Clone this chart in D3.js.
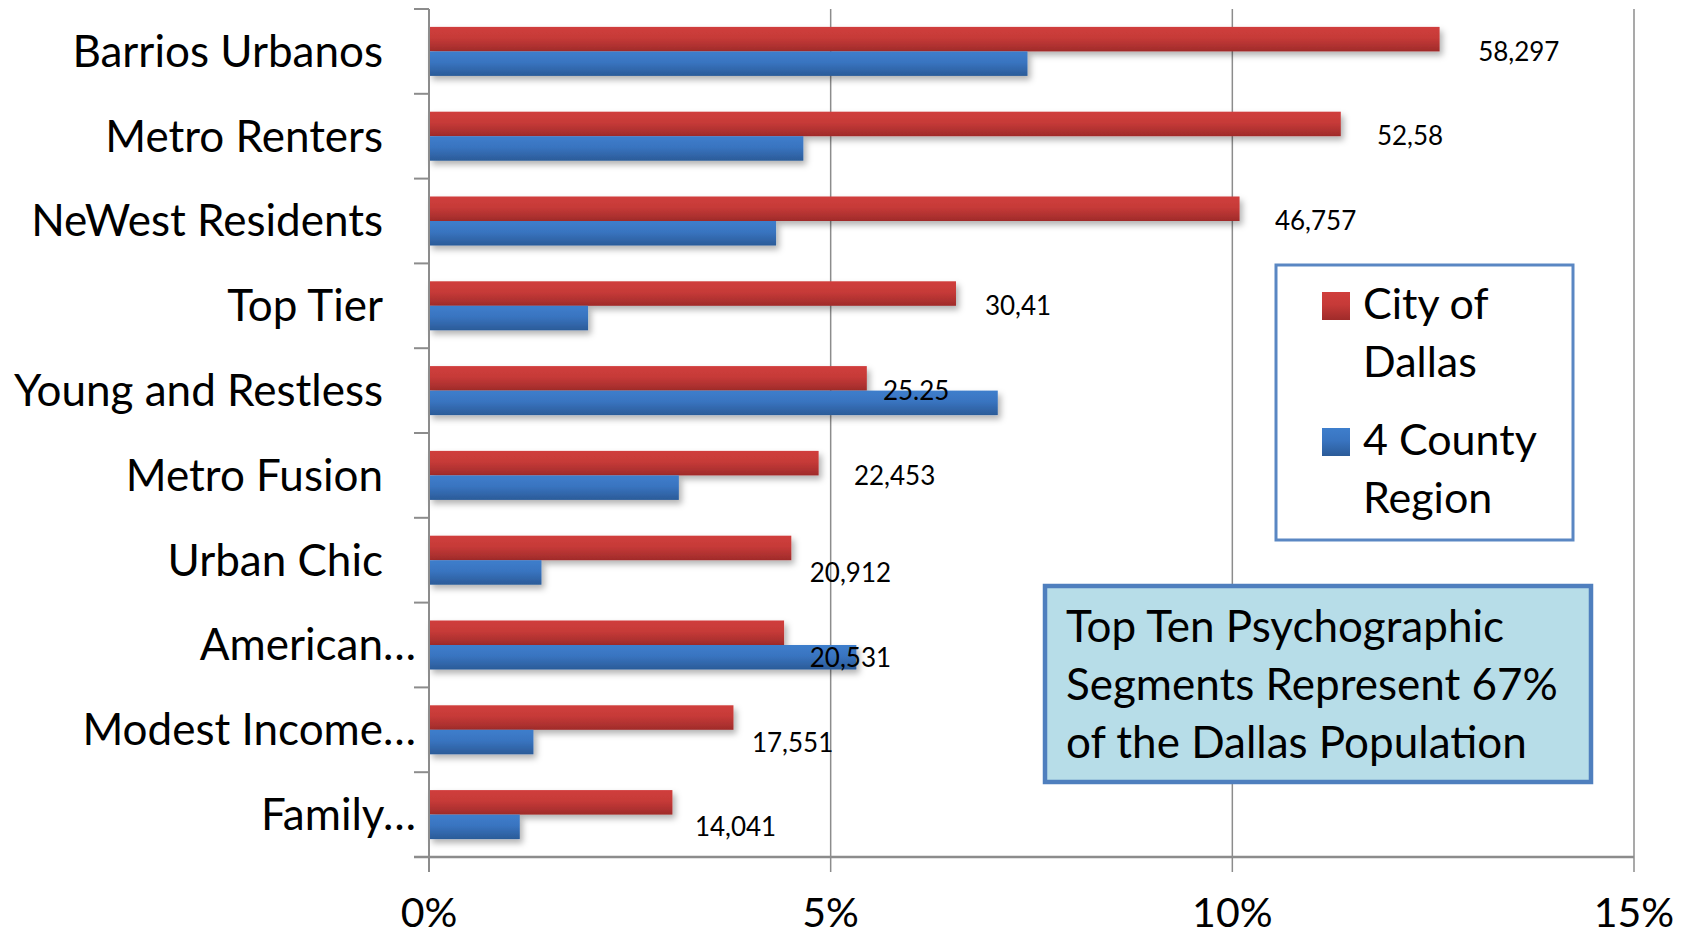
<!DOCTYPE html>
<html>
<head>
<meta charset="utf-8">
<script src="https://cdn.jsdelivr.net/npm/d3@7"></script>
<style>
  body { margin: 0; background: #fff; }
  text { font-family: Lato, "Open Sans", sans-serif; fill: #000; }
</style>
</head>
<body>
<div id="chart"></div>
<script>
var segments = ["Barrios Urbanos", "Metro Renters", "NeWest Residents", "Top Tier",
  "Young and Restless", "Metro Fusion", "Urban Chic", "American\u2026",
  "Modest Income\u2026", "Family\u2026"]
var seriesNames = ["City of Dallas", "4 County Region"]
var cityPct = [12.58, 11.35, 10.09, 6.56, 5.45, 4.85, 4.51, 4.42, 3.79, 3.03]
var countyPct = [7.45, 4.66, 4.32, 1.98, 7.08, 3.11, 1.40, 5.32, 1.30, 1.13]
var cityCounts = ["58,297", "52,58", "46,757", "30,41", "25.25", "22,453", "20,912", "20,531", "17,551", "14,041"]
// where each count label sits, in % along x
var countAt = [13.06, 11.80, 10.53, 6.92, 5.65, 5.29, 4.74, 4.74, 4.02, 3.31]
var countDrop = [0, 0, 0, 0, 0, 0, 0.15, 0.15, 0.15, 0.15]
var xTicks = [0, 5, 10, 15]
var noteLines = ["Top Ten Psychographic", "Segments Represent 67%", "of the Dallas Population"]

var W = 1690, H = 937
var margin = {top: 9, left: 429, right: 56, bottom: 80}

var svg = d3.select("#chart").append("svg").attr("width", W).attr("height", H)

var defs = svg.append("defs")
var gradRed = defs.append("linearGradient").attr("id", "gRed").attr("x1", 0).attr("y1", 0).attr("x2", 0).attr("y2", 1)
gradRed.append("stop").attr("offset", "0%").attr("stop-color", "#d03e3c")
gradRed.append("stop").attr("offset", "45%").attr("stop-color", "#c63a38")
gradRed.append("stop").attr("offset", "100%").attr("stop-color", "#9f2b2a")
var gradBlue = defs.append("linearGradient").attr("id", "gBlue").attr("x1", 0).attr("y1", 0).attr("x2", 0).attr("y2", 1)
gradBlue.append("stop").attr("offset", "0%").attr("stop-color", "#3e7ecc")
gradBlue.append("stop").attr("offset", "45%").attr("stop-color", "#3974c0")
gradBlue.append("stop").attr("offset", "100%").attr("stop-color", "#2b5b98")
defs.append("filter").attr("id", "shadow").attr("x", "-5%").attr("y", "-40%").attr("width", "120%").attr("height", "200%")
  .append("feDropShadow").attr("dx", 3).attr("dy", 4).attr("stdDeviation", 3)
  .attr("flood-color", "#000").attr("flood-opacity", 0.3)

var x = d3.scaleLinear().domain([0, 15]).range([margin.left, W - margin.right])
var y = d3.scaleBand().domain(segments).range([margin.top, H - margin.bottom]).padding(0)
var ySub = d3.scaleBand().domain(seriesNames).range([0, y.bandwidth()]).paddingInner(0).paddingOuter(0.73)
var fills = {"City of Dallas": "url(#gRed)", "4 County Region": "url(#gBlue)"}
var plotBottom = H - margin.bottom

// gridlines
svg.append("g").selectAll("line").data(xTicks.slice(1)).enter().append("line")
  .attr("x1", function(d) { return x(d) }).attr("x2", function(d) { return x(d) })
  .attr("y1", margin.top).attr("y2", plotBottom + 15)
  .attr("stroke", "#8c8c8c").attr("stroke-width", 1.5)

// bars
var rows = segments.map(function(s, i) {
  return {seg: s, values: [{k: seriesNames[0], v: cityPct[i]}, {k: seriesNames[1], v: countyPct[i]}]}
})
var groups = svg.append("g").selectAll("g").data(rows).enter().append("g")
  .attr("transform", function(d) { return "translate(0," + y(d.seg) + ")" })
groups.selectAll("rect").data(function(d) { return d.values }).enter().append("rect")
  .attr("x", x(0))
  .attr("y", function(d) { return ySub(d.k) })
  .attr("width", function(d) { return x(d.v) - x(0) })
  .attr("height", ySub.bandwidth())
  .attr("fill", function(d) { return fills[d.k] })
  .attr("filter", "url(#shadow)")

// axes
svg.append("line").attr("x1", x(0)).attr("x2", x(0)).attr("y1", margin.top).attr("y2", plotBottom + 15)
  .attr("stroke", "#8c8c8c").attr("stroke-width", 2)
svg.append("line").attr("x1", x(0) - 15).attr("x2", x(15)).attr("y1", plotBottom).attr("y2", plotBottom)
  .attr("stroke", "#8c8c8c").attr("stroke-width", 2.5)
var bounds = segments.map(function(s) { return y(s) })
svg.append("g").selectAll("line").data(bounds).enter().append("line")
  .attr("x1", x(0) - 15).attr("x2", x(0))
  .attr("y1", function(d) { return d }).attr("y2", function(d) { return d })
  .attr("stroke", "#8c8c8c").attr("stroke-width", 2)

svg.append("g").selectAll("text").data(xTicks).enter().append("text")
  .attr("x", function(d) { return x(d) }).attr("y", 927)
  .attr("text-anchor", "middle").style("font-size", "41px")
  .text(function(d) { return d + "%" })

svg.append("g").selectAll("text").data(segments).enter().append("text")
  .attr("x", function(d) { return d.slice(-1) === "\u2026" ? x(0) - 13 : x(0) - 46 })
  .attr("y", function(d) { return y(d) + y.bandwidth() / 2 }).attr("dy", "0.35em")
  .attr("text-anchor", "end").style("font-size", "44px")
  .text(function(d) { return d })

// count labels
svg.append("g").selectAll("text").data(cityCounts).enter().append("text")
  .attr("x", function(d, i) { return x(countAt[i]) })
  .attr("y", function(d, i) { return y(segments[i]) + y.bandwidth() * (0.5 + countDrop[i]) })
  .attr("dy", "0.35em").style("font-size", "26px")
  .text(function(d) { return d })

// legend
var leg = svg.append("g")
leg.append("rect").attr("x", 1276).attr("y", 265).attr("width", 297).attr("height", 275)
  .attr("fill", "#fff").attr("stroke", "#5a87c3").attr("stroke-width", 3)
var legLines = [["City of", "Dallas"], ["4 County", "Region"]]
seriesNames.forEach(function(s, i) {
  var top = 292 + i * 136
  leg.append("rect").attr("x", 1322).attr("y", top).attr("width", 28).attr("height", 28).attr("fill", fills[s])
  legLines[i].forEach(function(t, j) {
    leg.append("text").attr("x", 1363).attr("y", top + 27 + j * 58).style("font-size", "43px").text(t)
  })
})

// note box
var note = svg.append("g")
note.append("rect").attr("x", 1045).attr("y", 586).attr("width", 546).attr("height", 196)
  .attr("fill", "#b7dde8").attr("stroke", "#4f7fbe").attr("stroke-width", 4.5)
note.selectAll("text").data(noteLines).enter().append("text")
  .attr("x", 1066).attr("y", function(d, i) { return 642 + i * 58 })
  .style("font-size", "44px").text(function(d) { return d })
</script>
</body>
</html>
